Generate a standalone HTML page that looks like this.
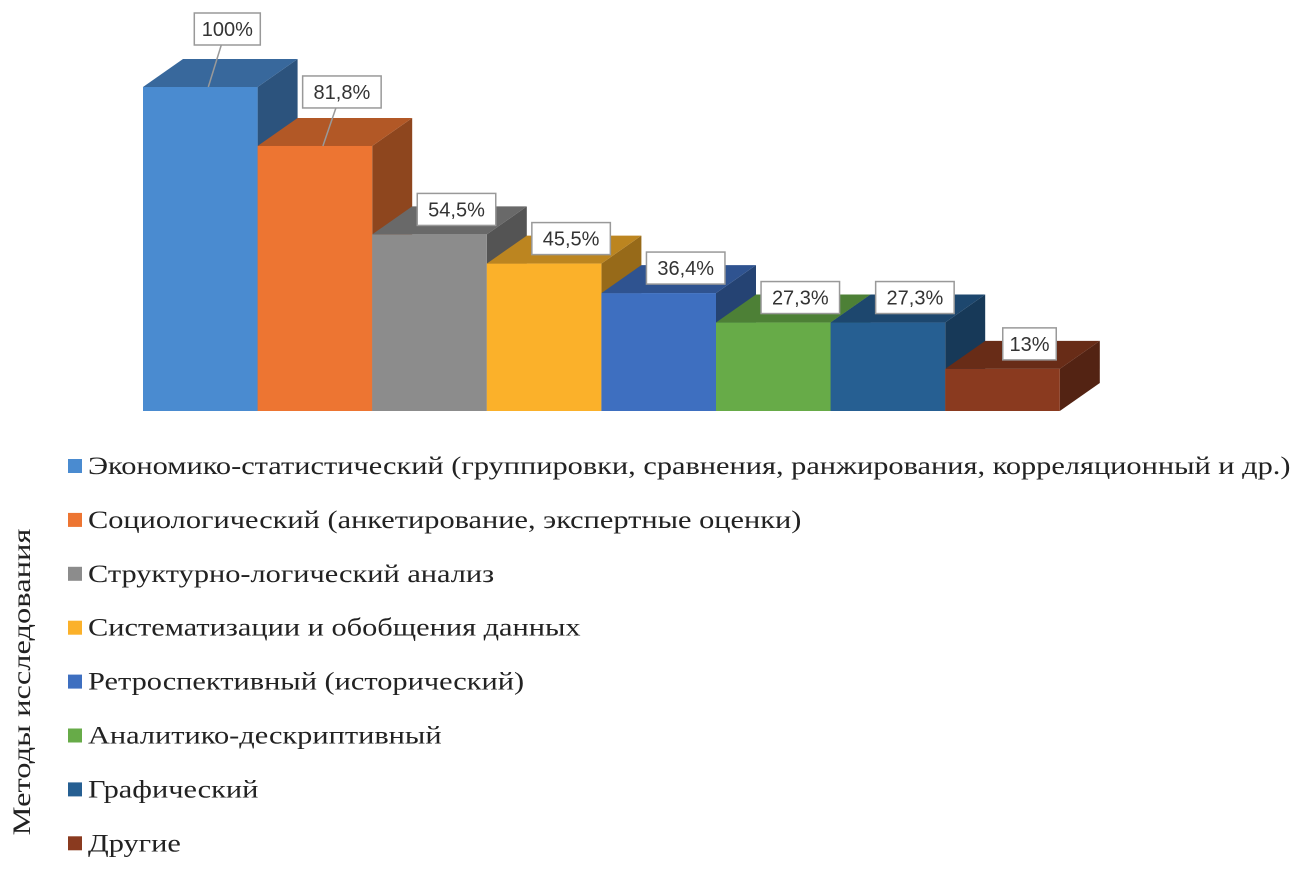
<!DOCTYPE html>
<html><head><meta charset="utf-8"><style>
body{margin:0;background:#fff;width:1301px;height:865px;overflow:hidden}
svg text{font-family:"Liberation Sans",sans-serif}
.leg{font-family:"Liberation Serif",serif;font-size:25px;fill:#222}
</style></head><body>
<svg width="1301" height="865">
<g id="bars"></g><g id="labels"></g><g id="legend"></g>
<text class="leg" transform="translate(30,682) rotate(-90) scale(1.3,1)" text-anchor="middle">Методы исследования</text>
</svg>
<script>
const categories=["Экономико-статистический (группировки, сравнения, ранжирования, корреляционный и др.)","Социологический (анкетирование, экспертные оценки)","Структурно-логический анализ","Систематизации и обобщения данных","Ретроспективный (исторический)","Аналитико-дескриптивный","Графический","Другие"];
const values=[100,81.8,54.5,45.5,36.4,27.3,27.3,13];
const valueLabels=["100%","81,8%","54,5%","45,5%","36,4%","27,3%","27,3%","13%"];
const colors=["#4a8bd0","#ed7532","#8c8c8c","#fbb12a","#3e6fc0","#67ab48","#265f92","#8a3a1f"];
function shade(h,f){const n=parseInt(h.slice(1),16);const r=Math.round((n>>16)*f),g=Math.round(((n>>8)&255)*f),b=Math.round((n&255)*f);return `rgb(${r},${g},${b})`}
const x0=143,bw=114.6,base=411,scale=3.24,dx=40,dy=-28;
const y=v=>base-v*scale;
const NS="http://www.w3.org/2000/svg";
const gB=document.getElementById('bars'),gL=document.getElementById('labels'),gG=document.getElementById('legend');
function el(t,a,p){const e=document.createElementNS(NS,t);for(const k in a)e.setAttribute(k,a[k]);p.appendChild(e);return e}
for(let i=0;i<values.length;i++){
 const x=x0+i*bw,t=y(values[i]),c=colors[i];
 const side=el('polygon',{points:`${x+bw},${t} ${x+bw+dx},${t+dy} ${x+bw+dx},${base+dy} ${x+bw},${base}`,fill:shade(c,0.6)},gB);
 
 const top=el('polygon',{points:`${x},${t} ${x+dx},${t+dy} ${x+bw+dx},${t+dy} ${x+bw},${t}`,fill:shade(c,0.75)},gB);
 
 const r=el('rect',{x:x,y:t,width:bw,height:base-t,fill:c},gB);
 
}
for(let i=0;i<values.length;i++){
 const x=x0+i*bw,t=y(values[i]);
 const off=i==0?58:(i==1?54:25);
 const cx=x+bw/2+27,cy=t-off;
 const w=valueLabels[i].length*12.5+16;
 if(i<2){const ln=el('line',{x1:x+bw/2+8,y1:t,x2:cx-6,y2:cy+16,stroke:'#999','stroke-width':1.5},gL);}
 const b=el('rect',{x:cx-w/2,y:cy-16,width:w,height:32,fill:'#fff',stroke:'#999','stroke-width':1.5},gL);
 
 const tx=el('text',{x:cx,y:cy+7,'text-anchor':'middle','font-size':20,fill:'#333'},gL);tx.textContent=valueLabels[i];
 
}
for(let i=0;i<categories.length;i++){
 const yy=466+i*53.9;
 const s=el('rect',{x:68,y:yy-7,width:14,height:14,fill:colors[i]},gG);
 
 const t=el('text',{transform:`translate(88,${yy+8}) scale(1.215,1)`,class:'leg'},gG);t.textContent=categories[i];
 
}
</script>
</body></html>
